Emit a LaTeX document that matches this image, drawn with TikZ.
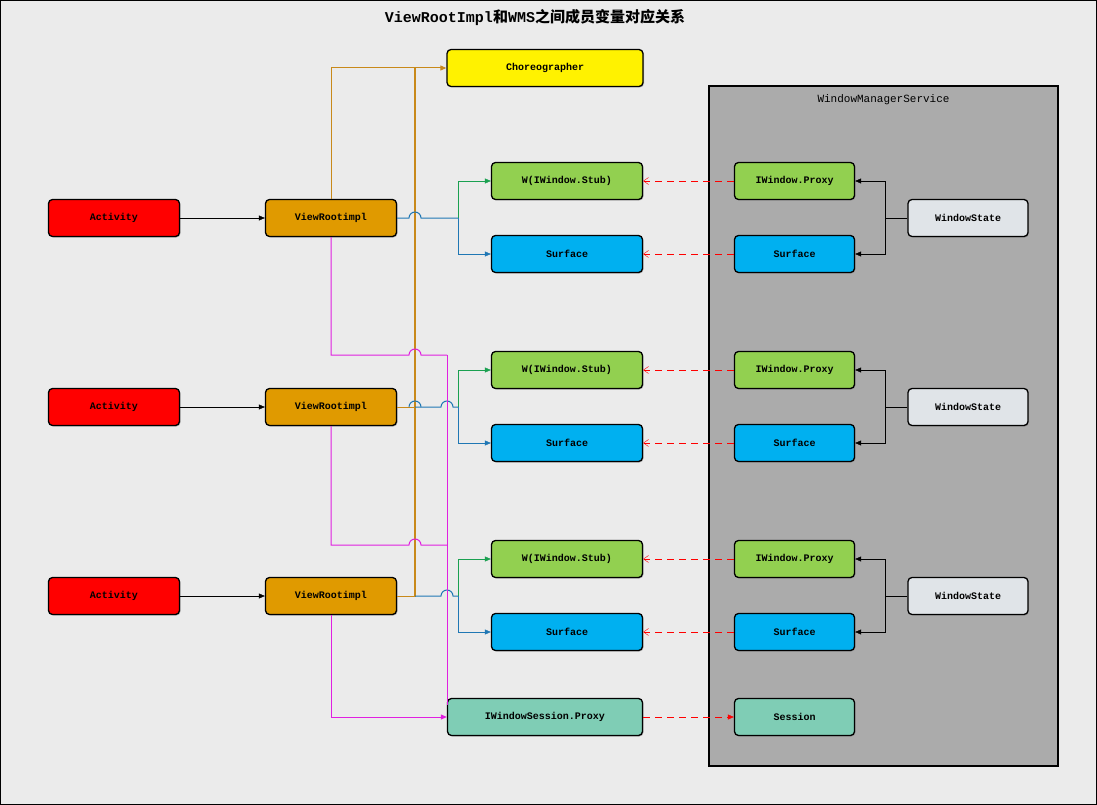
\documentclass[tikz,border=0pt]{standalone}
\usepackage{fontspec}
\setmonofont{Liberation Mono}
\newfontfamily\cjk{Noto Sans CJK SC}
\usetikzlibrary{shadows,arrows.meta}
\definecolor{bg}{HTML}{EBEBEB}
\definecolor{vrc}{HTML}{E09A00}
\definecolor{stub}{HTML}{92D050}
\definecolor{surf}{HTML}{00B0F0}
\definecolor{wsc}{HTML}{E0E4E8}
\definecolor{sess}{HTML}{7FCDB5}
\definecolor{wms}{HTML}{ABABAB}
\definecolor{orn}{HTML}{C8891A}
\definecolor{grn}{HTML}{1AA050}
\definecolor{blu}{HTML}{1F77B4}
\definecolor{mag}{HTML}{E020E0}
\begin{document}
\begin{tikzpicture}[x=1pt,y=-1pt,
 box/.style={draw=black,line width=1.3pt,rounded corners=4pt,minimum height=37pt,
   font=\ttfamily\bfseries\fontsize{10}{12}\selectfont,inner sep=0pt,
   drop shadow={shadow xshift=1pt,shadow yshift=-1pt,opacity=0.5}},
 w132/.style={box,minimum width=131pt},
 w152/.style={box,minimum width=151pt},
 w121/.style={box,minimum width=120pt},
 w196/.style={box,minimum width=195pt},
 arr/.style={-{Triangle[length=6pt,width=5pt]}},
 reddash/.style={red,dashed,dash pattern=on 7pt off 5pt,-{Straight Barb[length=5pt,width=7pt]}}]
\fill[bg] (0,0) rectangle (1097,805);
\draw[black,line width=1pt] (0.5,0.5) rectangle (1096.5,804.5);
\node[font=\cjk\bfseries\fontsize{15}{18}\selectfont] (title) at (535,18) {\ttfamily\bfseries ViewRootImpl\cjk 和\ttfamily WMS\cjk 之间成员变量对应关系};
\node[draw=black,line width=1.3pt,fill=wms,minimum width=349pt,minimum height=680pt,inner sep=0pt] (wms) at (883.5,426) {};
\node[font=\ttfamily\fontsize{11}{13}\selectfont] (wmsl) at (883.5,100) {WindowManagerService};
\node[box,minimum width=196pt,fill=yellow] (cho) at (545,68) {Choreographer};
\foreach \i/\y/\sy in {1/218/0,2/407/189,3/596/378}{
 \node[w132,fill=red] (act\i) at (114,\y) {Activity};
 \node[w132,fill=vrc] (vr\i) at (331,\y) {ViewRootimpl};
 \node[w152,fill=stub] (st\i) at (567,181+\sy) {W(IWindow.Stub)};
 \node[w152,fill=surf] (sf\i) at (567,254+\sy) {Surface};
 \node[w121,fill=stub] (px\i) at (794.5,181+\sy) {IWindow.Proxy};
 \node[w121,fill=surf] (ws\i) at (794.5,254+\sy) {Surface};
 \node[w121,fill=wsc] (wst\i) at (968,\y) {WindowState};
 \draw[arr] (act\i) -- (vr\i);
 \draw[reddash] (px\i) -- (st\i);
 \draw[reddash] (ws\i) -- (sf\i);
 \draw[arr] (wst\i.west) -- ++(-22,0) |- (px\i.east);
 \draw[arr] (wst\i.west) -- ++(-22,0) |- (ws\i.east);
 \draw[grn,arr] (458,\y) |- (st\i.west);
 \draw[blu,arr] (458,\y) |- (sf\i.west);
}
\node[w196,fill=sess] (isp) at (545,717) {IWindowSession.Proxy};
\node[w121,fill=sess] (ses) at (794.5,717) {Session};
\draw[red,dashed,dash pattern=on 7pt off 5pt,arr] (isp) -- (ses);
\draw[orn,line width=1pt,arr] (vr1.north) |- (cho.west);
\draw[orn,line width=1.8pt] (415,68) -- (415,597);
\draw[orn,line width=1pt] (vr2.east) -- (415,407);
\draw[orn,line width=1pt] (vr3.east) -- (415,596);
\draw[blu,line width=1pt] (vr1.east) -- (409,218) arc[start angle=180,end angle=0,radius=6pt] -- (458,218);
\draw[blu,line width=1pt] (415,407) -- (441,407) arc[start angle=180,end angle=0,radius=6pt] -- (458,407);
\draw[blu,line width=1pt] (409,407) arc[start angle=180,end angle=0,radius=6pt];
\draw[blu,line width=1pt] (415,596) -- (441,596) arc[start angle=180,end angle=0,radius=6pt] -- (458,596);
\draw[mag,line width=1pt] (vr1.south) |- (409,355) arc[start angle=180,end angle=0,radius=6pt] -- (447,355);
\draw[mag,line width=1pt] (vr2.south) |- (409,545) arc[start angle=180,end angle=0,radius=6pt] -- (447,545);
\draw[mag,line width=1pt] (447,355) -- (447,705);
\draw[mag,line width=1pt,arr] (vr3.south) |- (isp.west);
\end{tikzpicture}
\end{document}
